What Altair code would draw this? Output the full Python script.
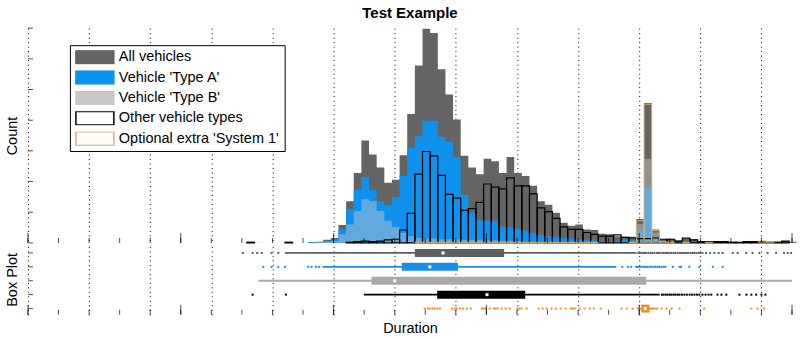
import altair as alt
import pandas as pd

# ---------------- data ----------------
SERIES = ["All vehicles", "Vehicle 'Type A'", "Vehicle 'Type B'",
          "Other vehicle types", "Optional extra 'System 1'"]
FILL_COLORS = ["#646464", "#0f92ee", "#c8c8c8", "#ffffff", "#fffdf8"]
STROKE_COLORS = ["#646464", "#0f92ee", "#c8c8c8", "#000000", "#d6ad72"]
BOX_COLORS = ["#5e5e5e", "#1a8fe6", "#a9a9a9", "#000000", "#e8921e"]

FIRST_EDGE = 7.16   # left edge of first histogram bin (Duration units)
BIN_W = 0.25        # bin width

ALL_COUNTS = [2, 0, 0, 0, 0, 2, 0, 0, 1, 2,
              5, 8, 29, 68, 114, 167, 144, 123, 98, 103,
              143, 210, 289, 349, 342, 283, 242, 201, 142, 123,
              112, 137, 133, 114, 140, 114, 109, 93, 68, 62,
              49, 33, 28, 30, 22, 21, 15, 14, 11, 10,
              10, 39, 228, 22, 6, 6, 4, 8, 6, 3,
              2, 2, 2, 2, 1, 2, 2, 3, 3, 2,
              3, 2]
TYPE_A_COUNTS = [0, 0, 0, 0, 0, 0, 0, 0, 1, 1,
                 3, 6, 22, 55, 87, 107, 86, 68, 61, 74,
                 109, 155, 174, 199, 199, 173, 165, 140, 78, 49,
                 37, 36, 36, 26, 26, 23, 20, 16, 13, 11,
                 10, 8, 7, 6, 5, 5, 3, 3, 3, 5,
                 5, 20, 90, 7, 2, 2, 1, 2, 1, 1,
                 1, 0, 1, 0, 0, 0, 0, 0, 0, 0,
                 0, 0]
TYPE_B_COUNTS = [0, 1, 0, 0, 0, 0, 0, 0, 0, 1,
                 2, 3, 14, 30, 52, 71, 68, 52, 36, 26,
                 16, 11, 8, 7, 7, 6, 6, 6, 5, 5,
                 5, 4, 4, 3, 3, 3, 2, 2, 2, 2,
                 1, 1, 1, 1, 1, 1, 1, 1, 1, 1,
                 2, 31, 137, 17, 1, 1, 1, 1, 0, 0,
                 0, 0, 1, 0, 0, 0, 0, 1, 0, 0,
                 0, 1]
OTHER_COUNTS = [1, 0, 0, 0, 0, 1, 0, 0, 0, 0,
                0, 0, 0, 1, 2, 3, 2, 3, 5, 6,
                21, 48, 112, 149, 142, 110, 79, 73, 53, 56,
                66, 96, 91, 88, 106, 93, 93, 80, 57, 51,
                40, 26, 22, 22, 17, 14, 11, 11, 13, 9,
                8, 7, 7, 8, 6, 6, 3, 8, 5, 2,
                2, 2, 2, 1, 1, 2, 2, 2, 1, 1,
                3, 0]
SYSTEM1_COUNTS = [0, 0, 0, 0, 0, 0, 0, 0, 0, 0,
                  0, 0, 0, 0, 0, 0, 0, 0, 0, 0,
                  0, 0, 1, 1, 1, 1, 1, 1, 1, 1,
                  1, 1, 1, 1, 1, 1, 1, 1, 1, 1,
                  1, 1, 1, 1, 1, 1, 0, 0, 0, 0,
                  1, 36, 226, 20, 2, 1, 0, 1, 0, 0,
                  1, 0, 0, 0, 0, 0, 0, 3, 2, 0,
                  0, 0]

# box plot summaries (Duration units), one entry per series
ROW_POS = [1, 2, 3, 4, 5]
WHISK_LO = [8.41, 9.64, 7.54, 10.99, 19.93]
Q1 = [12.66, 12.23, 11.24, 13.39, 20.07]
MEDIAN = [13.58, 13.15, 12.00, 15.02, 20.20]
Q3 = [15.58, 14.07, 20.23, 16.27, 20.34]
WHISK_HI = [19.91, 19.25, 25.0, 20.67, 20.62]

OUT_ALL = [7.03, 7.35, 7.50, 7.65, 7.97, 8.19, 19.97, 20.03, 20.1, 20.16, 20.22,
           20.3, 20.37, 20.43, 20.5, 20.58, 20.64, 20.7, 20.78, 20.85, 20.91,
           20.98, 21.05, 21.12, 21.18, 21.26, 21.33, 21.4, 21.46, 21.53, 21.6,
           21.68, 21.74, 21.8, 21.87, 21.94, 22.0, 22.07, 22.19, 22.32, 22.46,
           22.6, 22.73, 23.06, 23.22, 23.5, 23.71, 23.93, 24.2, 24.48, 24.74,
           24.86, 24.97]
OUT_TYPE_A = [7.70, 7.97, 8.19, 8.41, 9.17, 9.28, 9.42, 9.53, 19.45, 19.63, 19.74,
              19.9, 19.96, 20.02, 20.08, 20.15, 20.21, 20.27, 20.34, 20.4, 20.47,
              20.53, 20.6, 20.66, 20.73, 20.8, 20.86, 21.10, 21.32, 21.37, 21.64,
              21.97, 22.41, 22.73]
OUT_TYPE_B = []
OUT_OTHER = [7.35, 8.44, 20.74, 20.8, 20.87, 20.93, 21.0, 21.06, 21.13, 21.19,
             21.26, 21.32, 21.4, 21.48, 21.56, 21.65, 21.73, 21.81, 21.89, 21.97,
             22.07, 22.17, 22.27, 22.36, 22.56, 22.69, 22.85, 23.28, 23.51, 23.67,
             23.83, 24.0, 24.13]
OUT_SYSTEM1 = [12.98, 13.08, 13.15, 13.24, 13.31, 13.4, 13.48, 13.87, 13.96, 14.03,
               14.13, 14.23, 14.36, 14.49, 14.85, 14.92, 14.98, 15.11, 15.24, 15.3,
               15.37, 15.5, 15.63, 15.76, 16.02, 16.08, 16.15, 16.32, 16.71, 16.84,
               16.97, 17.13, 17.27, 17.43, 17.59, 17.76, 17.82, 17.89, 18.05, 18.21,
               18.38, 18.51, 18.74, 19.42, 19.59, 19.78, 20.73, 20.89, 21.06, 21.32,
               22.13, 23.67, 23.87, 24.09]

X_GRID = list(range(0, 26))
X_MAJOR = [0, 5, 10, 15, 20, 25]
Y_TICKS = [0, 50, 100, 150, 200, 250, 300, 350]
X_DOMAIN = [0, 25]
Y_DOMAIN = [0, 350]
ROW_DOMAIN = [0.35, 5.45]

# ---------------- tables ----------------
COUNTS = [ALL_COUNTS, TYPE_A_COUNTS, TYPE_B_COUNTS, OTHER_COUNTS, SYSTEM1_COUNTS]
area_rows, bar_rows = [], []
for s, counts in zip(SERIES, COUNTS):
    for i, c in enumerate(counts):
        left = FIRST_EDGE + BIN_W * i
        area_rows.append({"series": s, "edge": left, "cnt": c})
        bar_rows.append({"series": s, "left": left, "right": left + BIN_W, "cnt": c})
    area_rows.append({"series": s, "edge": FIRST_EDGE + BIN_W * len(counts), "cnt": 0})
area_df = pd.DataFrame(area_rows)
bar_df = pd.DataFrame(bar_rows)

box_df = pd.DataFrame({"series": SERIES, "row": ROW_POS, "lo": WHISK_LO, "q1": Q1,
                       "med": MEDIAN, "q3": Q3, "hi": WHISK_HI})
out_rows = []
for s, r, vals in zip(SERIES, ROW_POS, [OUT_ALL, OUT_TYPE_A, OUT_TYPE_B, OUT_OTHER, OUT_SYSTEM1]):
    for v in vals:
        out_rows.append({"series": s, "row": r, "value": v})
out_df = pd.DataFrame(out_rows)

xgrid_df = pd.DataFrame({"v": X_GRID})
xmajor_df = pd.DataFrame({"v": X_MAJOR})
ytick_df = pd.DataFrame({"v": Y_TICKS})
rowtick_df = pd.DataFrame({"v": ROW_POS})

# ---------------- styles ----------------
FONT = "Liberation Sans"
XS = alt.Scale(domain=X_DOMAIN, nice=False, zero=False)
YS = alt.Scale(domain=Y_DOMAIN, nice=False, zero=False)
RS = alt.Scale(domain=ROW_DOMAIN, reverse=True, nice=False, zero=False)


def x_axis(title):
    kw = dict(values=X_GRID, grid=True, gridColor="black", gridDash=[1, 3.5],
              gridWidth=1, gridOpacity=1, ticks=False, labels=False, domain=False)
    if title:
        kw.update(title=title, titleFont=FONT, titleFontSize=14.5,
                  titleFontWeight="normal", titleColor="black", titlePadding=7)
    else:
        kw.update(title=None)
    return alt.Axis(**kw)


def y_axis(title):
    return alt.Axis(title=title, titleFont=FONT, titleFontSize=14.5,
                    titleFontWeight="normal", titleColor="black", titlePadding=8,
                    labels=False, ticks=False, domain=False, grid=False)


AXH_X = x_axis(None)
AXH_Y = y_axis("Count")
AXB_X = x_axis("Duration")
AXB_Y = y_axis("Box Plot")

LEGEND = alt.Legend(title=None, orient="none", legendX=42, legendY=17,
                    symbolType="M-1,-0.36L1,-0.36L1,0.36L-1,0.36Z", symbolSize=1444,
                    clipHeight=14, rowPadding=5.4, labelOffset=4,
                    labelFont=FONT, labelFontSize=14.5, labelColor="black",
                    labelLimit=400, strokeColor="black", fillColor="white",
                    padding=5, symbolStrokeWidth=1.5)

FILL_ENC = alt.Fill("series:N", scale=alt.Scale(domain=SERIES, range=FILL_COLORS), legend=LEGEND)
STROKE_ENC = alt.Stroke("series:N", scale=alt.Scale(domain=SERIES, range=STROKE_COLORS), legend=LEGEND)


# ---------------- histogram panel ----------------
def area_layer(name, fill_opacity):
    return alt.Chart(area_df).transform_filter(alt.datum.series == name).mark_area(
        interpolate="step-after", fillOpacity=fill_opacity
    ).encode(
        x=alt.X("edge:Q", scale=XS, axis=AXH_X),
        y=alt.Y("cnt:Q", scale=YS, axis=AXH_Y, stack=None),
        fill=FILL_ENC,
    )


def outline_layer(name, width):
    return alt.Chart(bar_df).transform_filter(
        (alt.datum.series == name) & (alt.datum.cnt > 0)
    ).mark_rect(fillOpacity=0, strokeWidth=width).encode(
        x=alt.X("left:Q", scale=XS, axis=AXH_X),
        x2="right:Q",
        y=alt.Y("cnt:Q", scale=YS, axis=AXH_Y),
        y2=alt.datum(0),
        stroke=STROKE_ENC,
    )


h_xticks = alt.Chart(xgrid_df).mark_tick(orient="vertical", size=5, thickness=1,
                                          yOffset=-2.5, color="black").encode(
    x=alt.X("v:Q", scale=XS, axis=AXH_X), y=alt.datum(0))
h_xmajor = alt.Chart(xmajor_df).mark_tick(orient="vertical", size=10, thickness=1,
                                           yOffset=-5, color="black").encode(
    x=alt.X("v:Q", scale=XS, axis=AXH_X), y=alt.datum(0))
h_yticks = alt.Chart(ytick_df).mark_tick(orient="horizontal", size=5, thickness=1,
                                          xOffset=2.5, color="black").encode(
    x=alt.datum(0), y=alt.Y("v:Q", scale=YS, axis=AXH_Y))

hist = alt.layer(
    area_layer(SERIES[0], 1),
    area_layer(SERIES[1], 1),
    area_layer(SERIES[2], 0.45),
    outline_layer(SERIES[3], 1.2),
    outline_layer(SERIES[4], 1.0),
    h_xticks, h_xmajor, h_yticks,
).properties(
    width=765, height=215,
    title=alt.TitleParams("Test Example", font=FONT, fontSize=15, fontWeight="bold",
                          color="black", anchor="middle", offset=7),
)

# ---------------- box plot panel ----------------
BOX_COLOR = alt.Color("series:N", scale=alt.Scale(domain=SERIES, range=BOX_COLORS), legend=None)
ROW_Y = alt.Y("row:Q", scale=RS, axis=AXB_Y)

whiskers = alt.Chart(box_df).mark_rule(strokeWidth=1.8).encode(
    x=alt.X("lo:Q", scale=XS, axis=AXB_X), x2="hi:Q", y=ROW_Y, color=BOX_COLOR)
boxes = alt.Chart(box_df).mark_rule(strokeWidth=8, strokeCap="butt").encode(
    x=alt.X("q1:Q", scale=XS, axis=AXB_X), x2="q3:Q", y=ROW_Y, color=BOX_COLOR)
outliers = alt.Chart(out_df).mark_square(size=4, opacity=1).encode(
    x=alt.X("value:Q", scale=XS, axis=AXB_X), y=ROW_Y, color=BOX_COLOR)
medians = alt.Chart(box_df).mark_square(size=9, color="white", opacity=1).encode(
    x=alt.X("med:Q", scale=XS, axis=AXB_X), y=ROW_Y)

b_xticks = alt.Chart(xgrid_df).mark_tick(orient="vertical", size=5, thickness=1,
                                          yOffset=-2.5, color="black").encode(
    x=alt.X("v:Q", scale=XS, axis=AXB_X), y=alt.datum(ROW_DOMAIN[1]))
b_xmajor = alt.Chart(xmajor_df).mark_tick(orient="vertical", size=10, thickness=1,
                                           yOffset=-5, color="black").encode(
    x=alt.X("v:Q", scale=XS, axis=AXB_X), y=alt.datum(ROW_DOMAIN[1]))
b_yticks = alt.Chart(rowtick_df).mark_tick(orient="horizontal", size=5, thickness=1,
                                            xOffset=2.5, color="black").encode(
    x=alt.datum(0), y=alt.Y("v:Q", scale=RS, axis=AXB_Y))

box = alt.layer(whiskers, outliers, boxes, medians, b_xticks, b_xmajor, b_yticks).properties(
    width=765, height=71)

chart = alt.vconcat(hist, box, spacing=0).properties(
    padding={"left": 5, "top": 5, "right": 3, "bottom": 2},
    background="white",
).configure_view(stroke=None)

chart.save("out.html", embed_options={"renderer": "svg", "actions": False})
